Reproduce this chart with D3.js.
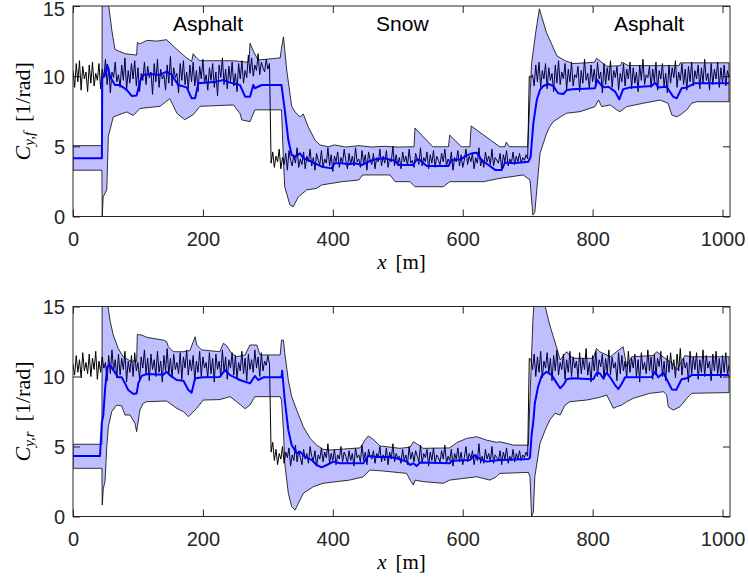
<!DOCTYPE html>
<html>
<head>
<meta charset="utf-8">
<script src="https://cdn.jsdelivr.net/npm/d3@7"></script>
<style>
  html, body { margin: 0; padding: 0; background: #fff; }
  svg { display: block; }
  .tick text { font-family: "Liberation Sans", Arial, sans-serif; font-size: 20px; fill: #262626; }
  .tick line { stroke: #262626; stroke-width: 1; }
</style>
</head>
<body>
<svg id="chart" width="748" height="582"></svg>
<script>
// Sampling of the measured stiffness traces (metres between samples)
const distanceStep = 2.5;

// Measured front cornering stiffness, one sample every 2.5 m from 0 to 1010 m
const frontMeasured = [
  10.4, 9.2, 10.9, 9.6, 11.1, 9.0, 10.7, 9.8, 10.3, 8.9,
  10.8, 9.5, 11.0, 9.3, 10.2, 9.7, 10.9, 9.1, 10.5, 9.9,
  11.2, 9.4, 10.6, 8.8, 10.3, 9.9, 11.0, 9.6, 10.1, 9.2,
  10.8, 9.7, 11.3, 9.0, 10.4, 9.5, 10.9, 9.8, 11.1, 9.3,
  10.6, 8.9, 10.2, 9.7, 11.0, 9.4, 10.7, 9.9, 10.3, 8.7,
  10.9, 9.6, 11.2, 9.2, 10.5, 9.8, 10.1, 9.0, 10.8, 9.5,
  11.4, 9.3, 10.6, 9.9, 10.2, 8.8, 10.9, 9.7, 11.1, 9.4,
  10.3, 9.1, 10.8, 9.6, 11.0, 9.3, 10.4, 8.9, 10.7, 9.8,
  11.2, 9.5, 10.1, 9.0, 10.6, 9.7, 10.9, 9.2, 10.3, 8.6,
  10.8, 9.9, 11.3, 9.4, 10.5, 9.1, 10.7, 9.6, 11.0, 9.3,
  10.2, 8.9, 10.9, 9.8, 11.1, 9.5, 10.4, 9.9, 11.5, 10.2,
  11.3, 10.0, 10.8, 10.4, 11.6, 10.1, 11.0, 10.6, 10.3, 11.2,
  10.5, 10.9,
  3.8, 4.6, 3.5, 4.3, 3.9, 4.8, 3.4, 4.2, 3.7, 4.5,
  3.3, 4.7, 4.0, 3.6, 4.4, 3.8, 4.9, 3.5, 4.1, 3.7,
  4.6, 3.4, 4.3, 3.9, 4.8, 3.6, 4.2, 3.3, 4.5, 4.0,
  3.7, 4.7, 3.5, 4.1, 3.8, 4.9, 3.6, 4.4, 3.2, 4.3,
  3.9, 4.6, 3.5, 4.2, 3.8, 4.8, 4.0, 3.4, 4.5, 3.7,
  4.3, 3.6, 4.9, 3.9, 4.1, 3.5, 4.7, 3.8, 4.4, 3.3,
  4.6, 4.0, 3.7, 4.5, 3.4, 4.2, 3.9, 4.8, 3.6, 4.3,
  3.8, 4.7, 3.5, 4.1, 3.9, 5.0, 3.6, 4.4, 3.7, 4.2,
  3.4, 4.6, 3.9, 4.3, 3.6, 4.8, 3.8, 4.0, 3.5, 4.5,
  4.1, 3.7, 4.9, 3.6, 4.2, 3.9, 4.6, 3.4, 4.4, 3.8,
  4.7, 3.5, 4.3, 4.0, 3.7, 4.5, 3.9, 4.8, 3.6, 4.1,
  3.8, 4.6, 3.3, 4.2, 3.9, 4.7, 3.6, 4.4, 3.5, 4.0,
  4.8, 3.7, 4.3, 3.9, 4.5, 3.4, 4.2, 3.8, 4.9, 3.6,
  4.1, 3.5, 4.6, 3.9, 4.3, 3.7, 4.8, 3.6, 4.2, 4.0,
  3.8, 4.5, 3.4, 4.4, 3.9, 4.7, 3.6, 4.1, 3.8, 4.6,
  3.7, 4.3, 3.9, 4.5, 3.8, 4.2, 4.0, 4.4, 4.1,
  10.0, 9.9, 10.1, 9.3, 10.8, 9.6, 11.0, 9.2, 10.4, 9.8,
  10.9, 9.1, 10.6, 9.7, 10.2, 8.9, 10.8, 9.5, 11.1, 9.4,
  10.3, 9.8, 10.9, 9.0, 10.5, 9.6, 11.0, 9.3, 10.1, 9.9,
  10.7, 8.9, 10.4, 9.5, 11.2, 9.7, 10.2, 9.1, 10.8, 9.6,
  10.5, 9.3, 11.0, 9.8, 10.3, 8.8, 10.9, 9.4, 10.6, 9.7,
  11.1, 9.2, 10.4, 9.9, 10.7, 9.0, 10.2, 9.6, 10.9, 9.3,
  10.5, 9.8, 11.0, 9.1, 10.6, 9.5, 10.3, 8.9, 10.8, 9.7,
  11.2, 9.4, 10.1, 9.9, 10.7, 9.2, 10.5, 9.6, 11.0, 9.0,
  10.4, 9.8, 10.9, 9.3, 10.2, 8.8, 10.8, 9.5, 10.6, 9.9,
  11.1, 9.2, 10.3, 9.7, 10.9, 9.4, 10.5, 9.0, 10.7, 9.6,
  11.0, 9.3, 10.4, 9.8, 10.8, 9.1, 10.6, 9.5, 11.2, 9.7,
  10.2, 9.0, 10.9, 9.4, 10.5, 9.8, 11.0, 9.2, 10.6, 9.5,
  10.8, 9.3, 10.4, 9.9
];

// Measured rear cornering stiffness, same sampling
const rearMeasured = [
  10.9, 10.1, 11.5, 10.3, 11.2, 9.9, 11.7, 10.4, 11.0, 10.2,
  11.6, 10.0, 11.3, 10.5, 11.8, 9.8, 11.1, 10.3, 11.4, 10.6,
  11.0, 9.7, 11.5, 10.2, 11.9, 10.4, 11.2, 9.9, 11.6, 10.1,
  11.3, 10.5, 11.8, 9.6, 11.1, 10.3, 11.5, 10.0, 11.7, 10.4,
  11.0, 9.8, 11.4, 10.6, 11.9, 10.2, 11.3, 9.7, 11.6, 10.5,
  11.2, 10.0, 11.8, 10.3, 11.1, 9.6, 11.5, 10.4, 12.0, 10.1,
  11.3, 9.9, 11.6, 10.5, 11.0, 10.2, 11.7, 9.8, 11.4, 10.6,
  11.9, 10.1, 11.2, 10.4, 11.5, 9.7, 11.1, 10.3, 11.8, 10.0,
  11.4, 10.6, 11.0, 9.9, 11.7, 10.2, 11.3, 9.6, 11.6, 10.5,
  11.1, 10.0, 11.9, 10.3, 11.4, 9.8, 11.2, 10.6, 11.7, 10.1,
  11.5, 9.9, 11.0, 10.4, 11.8, 10.2, 11.3, 9.7, 11.6, 10.5,
  11.2, 10.3, 11.9, 10.6, 11.4, 10.0, 11.7, 10.4, 11.1, 10.8,
  11.5, 10.9,
  4.6, 5.3, 4.0, 4.8, 3.7, 4.5, 4.1, 5.0, 3.8, 4.6,
  4.2, 4.9, 3.6, 4.4, 4.0, 5.1, 3.9, 4.7, 4.2, 3.7,
  4.8, 4.1, 4.5, 3.8, 5.0, 4.3, 4.0, 4.7, 3.6, 4.4,
  4.1, 4.9, 3.9, 4.6, 4.2, 5.2, 3.8, 4.5, 4.0, 4.8,
  3.7, 4.4, 4.1, 5.0, 3.9, 4.6, 4.3, 3.8, 4.7, 4.0,
  4.5, 3.6, 4.9, 4.2, 4.4, 3.9, 5.1, 4.0, 4.6, 3.7,
  4.8, 4.3, 4.1, 4.7, 3.8, 4.5, 4.2, 5.0, 3.9, 4.4,
  4.0, 4.9, 3.7, 4.6, 4.1, 5.2, 3.9, 4.5, 4.2, 4.3,
  3.8, 4.8, 4.0, 4.4, 3.7, 5.0, 4.1, 4.6, 3.9, 4.7,
  4.3, 3.9, 5.1, 3.8, 4.5, 4.2, 4.8, 3.6, 4.6, 4.0,
  4.9, 3.8, 4.4, 4.2, 3.9, 4.7, 4.1, 5.1, 3.8, 4.3,
  4.0, 4.8, 3.6, 4.5, 4.1, 4.9, 3.9, 4.6, 3.7, 4.2,
  5.0, 3.9, 4.5, 4.1, 4.7, 3.7, 4.4, 4.0, 5.2, 3.8,
  4.3, 3.8, 4.8, 4.1, 4.5, 3.9, 5.0, 3.8, 4.4, 4.2,
  4.0, 4.7, 3.7, 4.6, 4.1, 4.9, 3.8, 4.3, 4.0, 4.8,
  3.9, 4.5, 4.1, 4.7, 4.0, 4.4, 4.2, 4.6, 4.3,
  11.3, 11.2, 10.5, 11.6, 10.0, 11.4, 10.3, 11.8, 9.9, 11.1,
  10.6, 11.7, 10.2, 11.3, 9.7, 11.5, 10.4, 11.9, 10.1, 11.0,
  10.5, 11.6, 9.8, 11.2, 10.3, 11.8, 10.0, 11.4, 10.6, 11.1,
  9.9, 11.7, 10.2, 11.3, 10.5, 12.0, 10.1, 11.0, 9.6, 11.5,
  10.4, 11.8, 10.0, 11.2, 10.7, 11.6, 9.8, 11.3, 10.3, 11.9,
  10.1, 11.4, 10.6, 11.0, 9.7, 11.7, 10.2, 11.5, 10.4, 11.1,
  9.9, 11.8, 10.3, 11.3, 10.6, 11.6, 10.0, 11.2, 9.6, 11.7,
  10.5, 11.0, 10.2, 11.9, 10.4, 11.4, 9.8, 11.6, 10.1, 11.3,
  10.7, 11.8, 10.0, 11.1, 9.7, 11.5, 10.3, 11.7, 10.5, 11.2,
  9.9, 11.6, 10.4, 12.0, 10.1, 11.3, 10.6, 11.0, 9.6, 11.8,
  10.2, 11.4, 10.5, 11.7, 9.8, 11.2, 10.3, 11.9, 10.0, 11.5,
  10.6, 11.1, 9.7, 11.6, 10.4, 11.8, 10.1, 11.3, 9.9, 11.5,
  10.3, 11.7, 10.2, 10.8
];

// Estimated front stiffness: [distance m, value]
const frontMean = [
  [0,4.15],[44.5,4.15],[45,9.85],[50,10.1],[52.8,10.8],[57,9.97],[64.7,9.37],[72,9.37],[82.7,9.02],[90.4,8.59],
  [98,8.62],[103,9.61],[108,10.09],[118.5,10.16],[134,10.09],[144,10.32],[152,10.1],[162,9.37],[175,9.2],[182.7,8.42],
  [188,8.42],[193,9.5],[221,9.61],[231.5,9.73],[241.7,9.54],[257,9.37],[265,8.54],[272.5,8.54],[277.6,9.37],[280,9.14],
  [290.5,9.37],[321,9.37],[326,7.6],[331.5,5.45],[336.7,4.38],[342,4.26],[349.5,4.5],[354.6,4.15],[367.5,3.9],[383,3.55],
  [398,3.43],[403,3.79],[414,3.79],[424,3.72],[434,3.79],[444.5,3.67],[454.7,3.9],[465,4.08],[480,4.15],[496,3.95],
  [501,3.67],[524,3.67],[529,4.08],[534,4.03],[544.6,3.6],[578,3.6],[583,4.03],[598,4.08],[603.5,4.3],[614,4.5],
  [621.6,4.55],[629,4.03],[650,3.32],[660,3.32],[665,3.84],[678,3.79],[701,3.9],[704.6,4.26],[708.7,6.64],[714,8.3],
  [719,9.02],[724,9.3],[732,9.44],[739.5,9.3],[747,8.78],[755,8.73],[760,9.0],[767.8,9.07],[803.7,9.14],[807,9.73],
  [814,9.3],[819,9.2],[824.5,9.25],[834.5,8.9],[841,8.35],[847,9.07],[857.6,9.2],[891,9.3],[896,9.54],[901,9.2],
  [914,9.25],[924,8.54],[929.5,8.42],[937,9.14],[945,9.2],[957.7,9.5],[1010,9.5]
];

// Upper and lower bounds of the front estimate
const frontUpper = [
  [0,5.05],[44.5,5.05],[45,19],[50,17.5],[55,15],[60,13.2],[64.7,11.9],[80,11.6],[98,11.5],[99,12.4],
  [103,12.3],[113.5,12.55],[129,12.5],[144,12.6],[160,11.9],[175,11.3],[182.7,11.05],[185,11.6],[190,11.3],[195,11.1],
  [247,11.1],[257,11.05],[267,11.0],[271,11.1],[272.5,12.35],[277.6,11.8],[285,11.15],[319,11.3],[321,12.0],[324,12.8],
  [326,11.9],[329,10.45],[336.7,7.85],[342,7.45],[349.5,7.1],[354.6,7.3],[362,6.4],[372.6,5.45],[380,5.1],[393,4.97],
  [403,5.1],[420,4.95],[440,5.05],[460,4.95],[480,5.0],[500,4.95],[525,4.97],[526.5,6.3],[554,4.97],[578,4.97],
  [580,5.8],[598,4.97],[611,4.97],[613,6.45],[657,4.97],[665,4.97],[667,5.3],[672,4.97],[700,4.97],[706,10.9],
  [712,13.0],[718,14.8],[729,13.1],[745,11.45],[757.5,11.1],[770,10.9],[790,10.95],[803,11.0],[806,11.27],[822,10.7],
  [843,10.75],[845,11.0],[855,10.75],[900,10.75],[933,10.75],[935,10.95],[1010,10.95]
];
const frontLower = [
  [0,3.3],[44.5,3.3],[45,0],[46.5,1.4],[52,1.9],[54.4,5.7],[62,7.1],[82.7,7.45],[93,7.2],[103,7.7],
  [134,7.85],[149,8.4],[160,7.35],[172,6.9],[185,7.25],[195.5,7.85],[247,7.95],[257,7.35],[260,6.88],[272.5,6.76],
  [280,7.6],[321,7.6],[324,4.0],[326,2.1],[334,0.82],[339,0.7],[347,1.4],[360,1.9],[375,2.0],[383,2.25],
  [414,2.48],[440,2.6],[446,2.96],[488,2.96],[496,2.48],[519,2.48],[526.5,2.12],[570,2.12],[580,2.48],[632,2.48],
  [657,2.72],[693,2.96],[703.6,2.6],[708,0.1],[711,0.3],[719,4.5],[729,5.9],[734,6.4],[739.5,6.76],[755,7.23],
  [760,7.36],[780.6,7.47],[803.7,7.83],[809,8.3],[814,7.83],[827,7.95],[837,7.6],[842,7.47],[852.5,7.83],[878,8.07],
  [904,8.3],[916,8.07],[922,7.23],[929.5,7.1],[934.6,7.23],[945,7.6],[952.6,8.07],[960,8.18],[1010,8.18]
];

// Estimated rear stiffness and its bounds
const rearMean = [
  [0,4.32],[41.6,4.32],[44.2,6.66],[46.7,7.25],[49.3,9.04],[52.8,10.7],[57,10.82],[62,10.46],[69.7,9.94],[75,9.94],
  [80,9.51],[85,9.04],[93,8.75],[98,8.8],[100.5,9.51],[105.8,10.04],[113.5,10.18],[139,10.12],[144,10.34],[149,10.1],
  [159.7,9.75],[170,9.7],[177.6,9.04],[182.7,8.85],[188,9.87],[200.6,9.94],[226,9.97],[234,10.46],[241.7,10.1],[249,9.94],
  [257,9.75],[272.5,9.51],[280,10.04],[285,9.75],[293,9.94],[321,9.94],[322,10.41],[326,8.32],[331.5,6.18],[336.7,5.1],
  [344.5,4.51],[349.5,4.63],[357,4.27],[367.5,4.04],[375,3.68],[383,3.51],[390.6,3.68],[401,3.92],[411,3.8],[447,3.8],
  [454.7,4.34],[467.6,4.25],[488,4.25],[498,4.16],[513.7,3.92],[519,3.68],[524,3.8],[529,3.6],[534,3.85],[580,3.8],
  [583,3.99],[611,4.04],[619,4.39],[626.5,4.1],[637,3.92],[657,4.04],[701,4.1],[703.6,4.2],[706,5.82],[708.7,6.77],
  [711,8.09],[716,9.27],[721.6,10.04],[729,10.34],[737,10.1],[745,9.51],[750,9.16],[755,9.4],[760,9.8],[767.8,9.87],
  [801,9.8],[806,10.23],[811,10.23],[816.5,9.87],[821.6,10.27],[827,9.94],[834.5,9.39],[839.7,9.1],[845,9.5],[850,9.94],
  [891,9.97],[896,10.34],[901,9.94],[909,10.27],[914,9.8],[922,9.08],[928.8,9.05],[937,9.8],[945,9.87],[952.6,10.1],
  [1010,10.1]
];
const rearUpper = [
  [0,5.16],[44.5,5.16],[45,19],[50.8,16],[57,14.0],[62,12.96],[69.7,12.0],[77.4,11.4],[90.4,11.06],[95.4,11.15],
  [98,11.06],[99,13.0],[105.8,12.96],[113.5,12.8],[139,12.6],[144,12.5],[146.8,12.13],[154.4,11.77],[170,11.77],[180,11.85],
  [188,12.84],[190.5,12.25],[198,11.9],[226,11.77],[231.5,12.37],[236.6,12.2],[244,11.66],[252,11.41],[264.8,11.54],[272.5,12.25],
  [283,12.25],[288,11.54],[319,11.54],[321,12.6],[324,12.6],[326,11.7],[331.5,9.75],[336.7,8.56],[344.5,7.6],[354.6,6.41],
  [365,5.58],[375,5.1],[385,4.8],[395.7,4.75],[411,4.8],[426,4.85],[442,4.9],[449.6,5.46],[454.7,5.75],[462.4,5.5],
  [472.7,5.04],[503,4.87],[519,4.95],[524,5.34],[529,5.2],[539,4.87],[580,4.9],[590.7,5.27],[606,5.58],[621.6,5.7],
  [637,5.45],[652,5.3],[657,5.34],[678,5.1],[701,5.1],[704,9.0],[708,14.0],[712,17],[721.6,16],[734,13.68],
  [745,12.0],[750,11.18],[760,11.77],[765,11.5],[770,11.3],[801,11.3],[806,12.0],[811,11.77],[827,11.41],[847,12.13],
  [852.5,10.7],[860,11.41],[893.6,11.5],[898.7,11.77],[911.5,11.3],[924,10.9],[929.5,10.46],[934.6,10.9],[942,11.5],[950,11.41],
  [1010,11.41]
];
const rearLower = [
  [0,3.44],[44.5,3.44],[45,0.82],[46.7,2.0],[49.3,2.49],[52,4.99],[54.4,6.41],[59.6,7.49],[67.3,7.96],[75,7.9],
  [80,7.25],[87.8,7.25],[95.4,6.66],[98,6.06],[103,7.6],[108,8.09],[113.5,8.2],[144,8.25],[149,8.09],[159.7,7.73],
  [170,7.49],[177.6,7.13],[182.7,7.35],[190.5,7.73],[200.6,8.32],[226,8.35],[241.7,8.56],[252,8.2],[265,7.7],[272.5,7.96],
  [280,8.56],[319,8.56],[321,8.32],[324,6.18],[326,3.8],[331.5,1.66],[336.7,0.7],[342,0.46],[347,0.94],[354.6,1.66],
  [370,2.13],[385,2.37],[406,2.49],[426,2.6],[447,2.84],[457,3.32],[477.5,3.25],[513.7,3.08],[519,2.6],[524,2.25],
  [526.5,2.6],[539,2.49],[570,2.37],[580,2.6],[601,2.72],[621.6,2.84],[642,2.6],[652,2.84],[657,3.08],[701,3.15],
  [703.6,2.84],[706,0],[708.7,0.3],[711,2.84],[719,5.23],[727,6.18],[734,6.89],[742,7.37],[750,7.25],[757.5,7.96],
  [765,8.2],[791,8.32],[811,8.51],[821.6,8.68],[827,8.2],[832,7.73],[837,7.84],[845,7.96],[852.5,8.2],[862.7,8.44],
  [888,8.8],[909,8.91],[914,8.68],[916.5,7.84],[924,7.6],[934.6,7.84],[945,8.44],[952.6,8.8],[1010,8.85]
];

// Axis ticks and road surface annotations
const xTicks = [0, 200, 400, 600, 800, 1000];
const yTicks = [0, 5, 10, 15];
const surfaceNames = ["Asphalt", "Snow", "Asphalt"];
const surfaceCenters = [208, 507, 887];
const surfaceLabelLevel = 13.2;

const svg = d3.select("#chart");
const left = 73, right = 730;
const x = d3.scaleLinear().domain([0, 1011.5]).range([left, right]);
const fmt = d3.format("d");

const panels = [
  { top: 6, bottom: 216.5, measured: frontMeasured, mean: frontMean, upper: frontUpper, lower: frontLower,
    sub: "y,f", labels: true },
  { top: 306.5, bottom: 516.5, measured: rearMeasured, mean: rearMean, upper: rearUpper, lower: rearLower,
    sub: "y,r", labels: false }
];

panels.forEach((p, i) => {
  const y = d3.scaleLinear().domain([0, 15]).range([p.bottom, p.top]);
  const g = svg.append("g");

  g.append("clipPath").attr("id", "clip" + i)
    .append("rect").attr("x", left).attr("y", p.top)
    .attr("width", right - left).attr("height", p.bottom - p.top);

  // ticks point inward on all four sides
  const ax = g.append("g");
  ax.append("g").attr("transform", `translate(0,${p.bottom})`)
    .call(d3.axisBottom(x).tickValues(xTicks).tickFormat(fmt).tickSizeInner(-7).tickSizeOuter(0).tickPadding(15));
  ax.append("g").attr("transform", `translate(0,${p.top})`)
    .call(d3.axisTop(x).tickValues(xTicks).tickSizeInner(-7).tickSizeOuter(0).tickFormat(""));
  const yAxis = ax.append("g").attr("transform", `translate(${left},0)`)
    .call(d3.axisLeft(y).tickValues(yTicks).tickFormat(fmt).tickSizeInner(-7).tickSizeOuter(0).tickPadding(8));
  yAxis.selectAll(".tick text").attr("dy", "0.36em")
    .filter(d => i === 0 && d === 15).attr("y", 2);
  ax.append("g").attr("transform", `translate(${right},0)`)
    .call(d3.axisRight(y).tickValues(yTicks).tickSizeInner(-7).tickSizeOuter(0).tickFormat(""));
  ax.selectAll(".domain").remove();

  const plot = g.append("g").attr("clip-path", `url(#clip${i})`);

  // measured trace
  const measuredLine = d3.line().x((d, k) => x(k * distanceStep)).y(d => y(d));
  plot.append("path").attr("d", measuredLine(p.measured))
    .attr("fill", "none").attr("stroke", "#000").attr("stroke-width", 1).attr("stroke-linejoin", "round");

  // confidence band: upper edge forward, lower edge back
  const pairLine = d3.line().x(d => x(d[0])).y(d => y(d[1]));
  const ring = p.upper.concat(p.lower.slice().reverse());
  plot.append("path").attr("d", pairLine(ring) + "Z")
    .attr("fill", "rgb(0,0,255)").attr("fill-opacity", 0.25)
    .attr("stroke", "#000").attr("stroke-width", 0.8).attr("stroke-linejoin", "round");

  // estimated stiffness
  plot.append("path").attr("d", pairLine(p.mean))
    .attr("fill", "none").attr("stroke", "#0000ff").attr("stroke-width", 2).attr("stroke-linejoin", "round");

  // axes box
  g.append("rect").attr("x", left).attr("y", p.top)
    .attr("width", right - left).attr("height", p.bottom - p.top)
    .attr("fill", "none").attr("stroke", "#262626").attr("stroke-width", 1);

  // axis labels
  const xl = g.append("text")
    .attr("x", (left + right) / 2).attr("y", p.bottom + 52)
    .attr("text-anchor", "middle")
    .style("font-family", "'Liberation Serif', 'DejaVu Serif', serif").style("font-size", "21px").attr("fill", "#000");
  xl.append("tspan").attr("font-style", "italic").text("x");
  xl.append("tspan").attr("dx", 9).text("[m]");

  const yl = g.append("text")
    .attr("transform", `translate(30,${(p.top + p.bottom) / 2}) rotate(-90)`)
    .attr("text-anchor", "middle")
    .style("font-family", "'Liberation Serif', 'DejaVu Serif', serif").style("font-size", "22px").attr("fill", "#000");
  yl.append("tspan").attr("font-style", "italic").text("C");
  yl.append("tspan").attr("font-style", "italic").attr("font-size", "15px").attr("dy", 4).text(p.sub);
  yl.append("tspan").attr("dy", -4).attr("dx", 10).text("[1/rad]");

  if (p.labels) {
    surfaceNames.forEach((name, k) => {
      g.append("text")
        .attr("x", x(surfaceCenters[k])).attr("y", y(surfaceLabelLevel))
        .attr("text-anchor", "middle")
        .style("font-family", "'Liberation Sans', Arial, sans-serif").style("font-size", "21px")
        .attr("fill", "#000").text(name);
    });
  }
});
</script>
</body>
</html>
